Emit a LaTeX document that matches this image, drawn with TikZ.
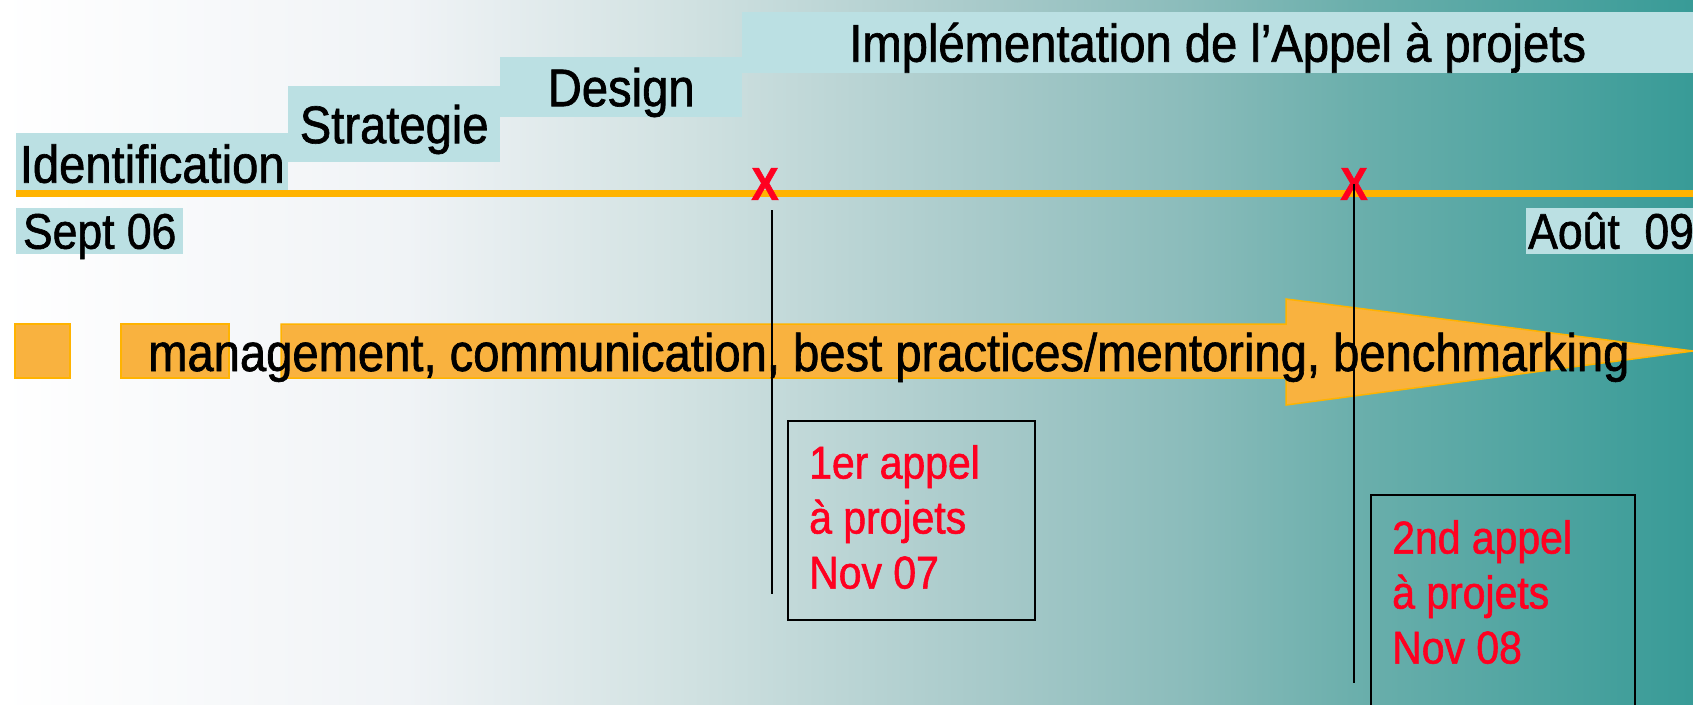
\documentclass[tikz,border=0pt]{standalone}
\usepackage{fontspec}
\setmainfont[FakeStretch=0.89, FakeBold=1.2]{Liberation Sans}
\usepackage{xcolor}
\usepackage{tikz}
\usetikzlibrary{positioning}
\definecolor{bgA}{HTML}{FFFFFF}
\definecolor{bgB}{HTML}{F0F3F6}
\definecolor{bgC}{HTML}{D2E2E2}
\definecolor{bgD}{HTML}{A8CACA}
\definecolor{bgE}{HTML}{8BBCBB}
\definecolor{bgF}{HTML}{6BAFAC}
\definecolor{bgG}{HTML}{389B97}
\definecolor{stagebg}{HTML}{BBE0E3}
\definecolor{lineor}{HTML}{FFB300}
\definecolor{bandor}{HTML}{F9B23F}
\definecolor{callred}{HTML}{FF0020}
\pgfdeclarehorizontalshading{bgfade}{100bp}{color(0bp)=(bgA); color(25bp)=(bgA); color(37bp)=(bgB); color(45bp)=(bgC); color(54bp)=(bgD); color(60bp)=(bgE); color(65bp)=(bgF); color(75bp)=(bgG); color(100bp)=(bgG)}
\tikzset{
  stage/.style={fill=stagebg, inner sep=0pt, text height=38pt, text depth=0pt, font=\fontsize{53}{60}\selectfont},
  datebox/.style={fill=stagebg, inner sep=0pt, text height=35pt, text depth=0pt, font=\fontsize{50}{56}\selectfont},
  timeline/.style={draw=lineor, line width=7pt},
  xmark/.style={text=callred, inner sep=0pt, font=\bfseries\fontsize{46}{46}\selectfont},
  drop/.style={draw=black, line width=1.5pt},
  band/.style={fill=bandor, draw=lineor, line width=1.5pt, line join=miter},
  bandtext/.style={inner sep=0pt, font=\fontsize{53}{60}\selectfont},
  callbox/.style={draw=black, line width=2pt, inner sep=0pt},
  calltext/.style={text=callred, inner sep=0pt, align=left, font=\fontsize{46}{55}\selectfont},
}
\begin{document}
\begin{tikzpicture}[x=1pt,y=-1pt]
  \useasboundingbox (0,0) rectangle (1693,704);
  \shade[shading=bgfade] (0,0) rectangle (1693,704);
  % phases
  \node[stage, minimum width=272pt, minimum height=61pt, anchor=north west] (ident) at (16,133) {Identification};
  \node[stage, minimum width=212pt, minimum height=76pt, anchor=north west] (strat) at (288,86) {Strategie};
  \node[stage, minimum width=242pt, minimum height=60pt, anchor=north west] (design) at (500,57) {Design};
  \node[stage, minimum width=951pt, minimum height=61pt, anchor=north west] (impl) at (742,12) {Implémentation de l'Appel à projets};
  % time line
  \coordinate (tl0) at (16,193);
  \coordinate (tl1) at (1693,193);
  \draw[timeline] (tl0) -- (tl1);
  \node[datebox, minimum width=167pt, minimum height=46pt, anchor=north west] (sept) at (16,208) {Sept 06};
  \node[datebox, minimum height=46pt, inner xsep=2pt, anchor=north west] (aout) at (1526,208) {Août\ \ 09};
  \node[xmark] (x1) at (765,184) {X};
  \node[xmark] (x2) at (1354,184) {X};
  % transversal tasks
  \draw[band] (15,324) rectangle (70,378);
  \draw[band] (121,324) rectangle (229,378);
  \draw[band] (281,324) -- (1286,324) -- (1286,299) -- (1693,351) -- (1286,405) -- (1286,378) -- (281,378) -- cycle;
  \node[bandtext, anchor=base west] (tasks) at (148,371) {management, communication, best practices/mentoring, benchmarking};
  % calls
  \coordinate (v1top) at (772,210);
  \coordinate (v1bot) at (772,594);
  \coordinate (v2bot) at (1354,683);
  \draw[drop] (v1top) -- (v1bot);
  \draw[drop] (x2.center) -- (v2bot);
  \node[callbox, minimum width=247pt, minimum height=199pt, anchor=north west] (call1) at (787,420) {};
  \node[calltext, anchor=north west] (call1txt) at (809,445) {1er appel\\à projets\\Nov 07};
  \node[callbox, minimum width=264pt, minimum height=280pt, anchor=north west] (call2) at (1370,494) {};
  \node[calltext, anchor=north west] (call2txt) at (1392,520) {2nd appel\\à projets\\Nov 08};
\end{tikzpicture}
\end{document}
